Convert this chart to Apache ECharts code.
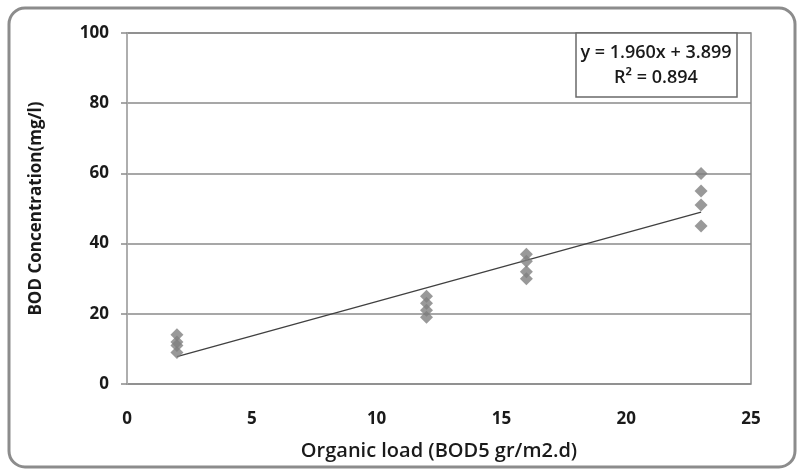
<!DOCTYPE html>
<html>
<head>
<meta charset="utf-8">
<script src="https://cdn.jsdelivr.net/npm/echarts@6/dist/echarts.min.js"></script>
<style>
  html, body { margin: 0; padding: 0; background: #fff; }
  #chart { width: 799px; height: 472px; }
</style>
</head>
<body>
<div id="chart"></div>
<script>
// Data
const organicLoad = [2, 2, 2, 2, 12, 12, 12, 12, 16, 16, 16, 16, 23, 23, 23, 23];
const bodConc = [9, 11, 12, 14, 19, 21, 23, 25, 30, 32, 35, 37, 45, 51, 55, 60];
const trendSlope = 1.960;
const trendIntercept = 3.899;
const trendRange = [2, 23];
const equationLines = ['y = 1.960x + 3.899', 'R\u00b2 = 0.894'];
const xAxisTitle = 'Organic load (BOD5 gr/m2.d)';
const yAxisTitle = 'BOD Concentration(mg/l)';

const points = organicLoad.map((x, i) => [x, bodConc[i]]);
const trend = trendRange.map(x => [x, trendSlope * x + trendIntercept]);

const font = '"Open Sans", sans-serif';
const chart = echarts.init(document.getElementById('chart'), null, { renderer: 'canvas' });
chart.setOption({
  backgroundColor: '#fff',
  animation: false,
  grid: { left: 127, right: 48, top: 33, bottom: 88, show: true, borderColor: '#8a8a8a', borderWidth: 1.5 },
  xAxis: {
    type: 'value', min: 0, max: 25, interval: 5,
    name: xAxisTitle, nameLocation: 'middle', nameGap: 57,
    nameTextStyle: { fontFamily: font, fontSize: 20, color: '#1a1a1a', fontWeight: 600 },
    axisLine: { show: false },
    axisTick: { show: false },
    splitLine: { show: false },
    axisLabel: { fontFamily: font, fontSize: 17, fontWeight: 'bold', color: '#1a1a1a', margin: 27 }
  },
  yAxis: {
    type: 'value', min: 0, max: 100, interval: 20,
    name: yAxisTitle, nameLocation: 'middle', nameGap: 82, nameRotate: 90,
    nameTextStyle: { fontFamily: font, fontSize: 17, color: '#1a1a1a', fontWeight: 'bold' },
    axisLine: { show: true, onZero: false, lineStyle: { color: '#b0b0b0', width: 1.5 } },
    axisTick: { show: true, inside: false, length: 6, lineStyle: { color: '#8a8a8a', width: 1.5 } },
    splitLine: { show: true, lineStyle: { color: '#8a8a8a', width: 1.5 } },
    axisLabel: { fontFamily: font, fontSize: 17, fontWeight: 'bold', color: '#1a1a1a', margin: 18 }
  },
  series: [
    {
      type: 'line', data: trend, symbol: 'none', z: 3,
      lineStyle: { color: '#404040', width: 1.3 }
    },
    {
      type: 'scatter', data: points, symbol: 'diamond', symbolSize: 13, z: 4,
      itemStyle: { color: '#7f7f7f' }
    }
  ],
  graphic: [
    {
      type: 'rect', z: 0, silent: true,
      shape: { x: 9, y: 8, width: 786, height: 459, r: 16 },
      style: { fill: 'none', stroke: '#8c8c8c', lineWidth: 3 }
    },
    {
      type: 'rect', z: 10, silent: true,
      shape: { x: 576, y: 33, width: 161, height: 64 },
      style: { fill: '#fff', stroke: '#6a6a6a', lineWidth: 1.5 }
    },
    {
      type: 'text', z: 11, silent: true,
      x: 656, y: 53,
      style: { text: equationLines[0], font: '600 18px "Open Sans"', fill: '#1a1a1a',
               align: 'center', verticalAlign: 'middle', textAlign: 'center', textVerticalAlign: 'middle' }
    },
    {
      type: 'text', z: 11, silent: true,
      x: 656, y: 78,
      style: { text: equationLines[1], font: '600 18px "Open Sans"', fill: '#1a1a1a',
               align: 'center', verticalAlign: 'middle', textAlign: 'center', textVerticalAlign: 'middle' }
    }
  ]
});
</script>
</body>
</html>
